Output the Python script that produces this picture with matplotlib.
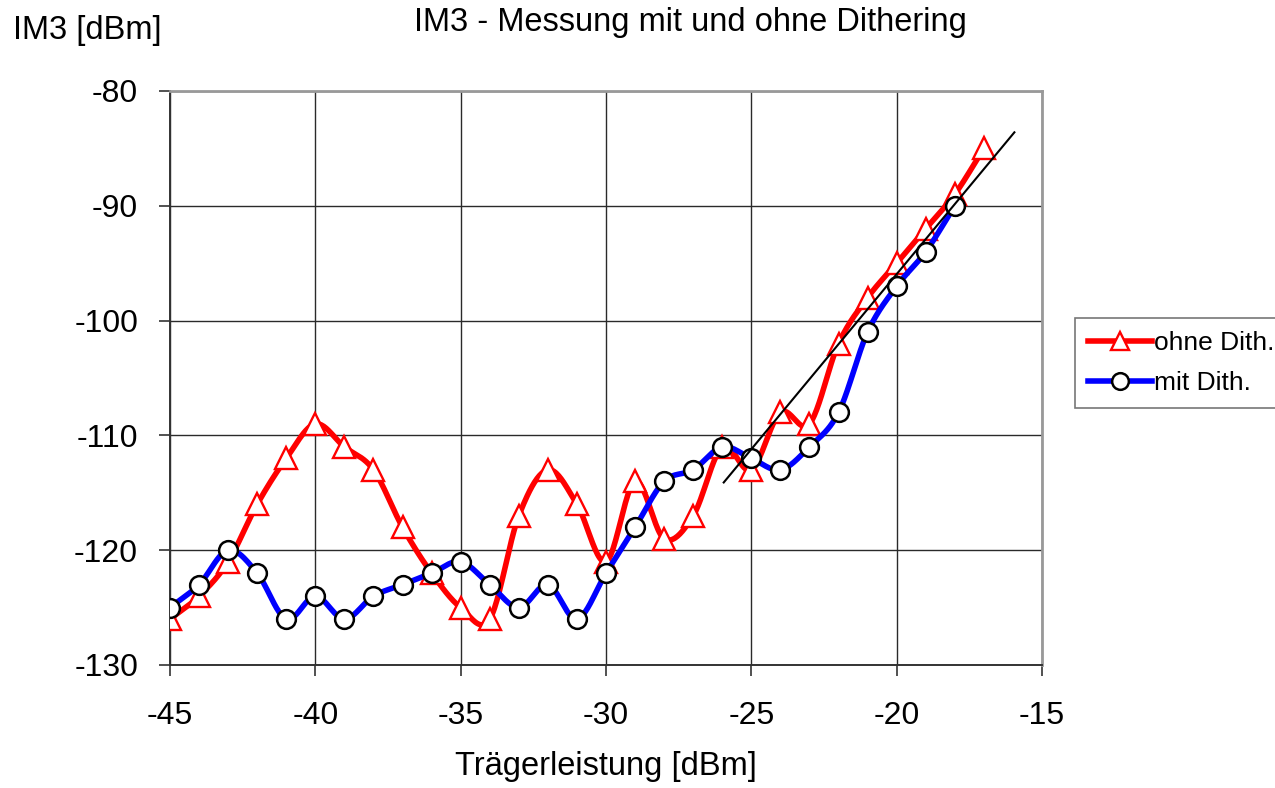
import numpy as np
import matplotlib.pyplot as plt

plt.rcParams['font.family'] = ['Liberation Sans', 'DejaVu Sans']
plt.rcParams['axes.unicode_minus'] = False

# Trägerleistung [dBm]
p_ohne = [-45, -44, -43, -42, -41, -40, -39, -38, -37, -36, -35, -34, -33, -32, -31,
          -30, -29, -28, -27, -26, -25, -24, -23, -22, -21, -20, -19, -18, -17]
im3_ohne = [-126, -124, -121, -116, -112, -109, -111, -113, -118, -122, -125, -126, -117, -113, -116,
            -121, -114, -119, -117, -111, -113, -108, -109, -102, -98, -95, -92, -89, -85]

p_mit = [-45, -44, -43, -42, -41, -40, -39, -38, -37, -36, -35, -34, -33, -32, -31,
         -30, -29, -28, -27, -26, -25, -24, -23, -22, -21, -20, -19, -18]
im3_mit = [-125, -123, -120, -122, -126, -124, -126, -124, -123, -122, -121, -123, -125, -123, -126,
           -122, -118, -114, -113, -111, -112, -113, -111, -108, -101, -97, -94, -90]

# Gerade mit Steigung 3 dB/dB
p_gerade = [-25.95, -15.95]
im3_gerade = [-114.1, -83.6]

xticks = [-45, -40, -35, -30, -25, -20, -15]
yticks = [-130, -120, -110, -100, -90, -80]


def glatt(x, y, n=24):
    # Catmull-Rom Spline, wie die geglätteten Linien in Excel
    x = np.asarray(x, float)
    y = np.asarray(y, float)
    px = np.concatenate([[2 * x[0] - x[1]], x, [2 * x[-1] - x[-2]]])
    py = np.concatenate([[2 * y[0] - y[1]], y, [2 * y[-1] - y[-2]]])
    t = np.linspace(0, 1, n, endpoint=False)
    xs, ys = [], []
    for i in range(1, len(px) - 2):
        for p, out in ((px, xs), (py, ys)):
            p0, p1, p2, p3 = p[i - 1], p[i], p[i + 1], p[i + 2]
            out.extend(0.5 * (2 * p1 + (-p0 + p2) * t + (2 * p0 - 5 * p1 + 4 * p2 - p3) * t**2
                              + (-p0 + 3 * p1 - 3 * p2 + p3) * t**3))
    xs.append(x[-1])
    ys.append(y[-1])
    return xs, ys


fig = plt.figure(figsize=(12.75, 7.88), dpi=100)
ax = fig.add_axes([170 / 1275, 1 - 665 / 788, 872 / 1275, 574 / 788])

xr, yr = glatt(p_ohne, im3_ohne)
ax.plot(xr, yr, color='#ff0000', lw=4, zorder=3, solid_capstyle='round')
ax.plot(p_ohne, im3_ohne, ls='none', marker='^', ms=15.5, mfc='white', mec='#ff0000', mew=1.7, zorder=4)

xb, yb = glatt(p_mit, im3_mit)
ax.plot(xb, yb, color='#0000ff', lw=4, zorder=5, solid_capstyle='round')
ax.plot(p_mit, im3_mit, ls='none', marker='o', ms=13.5, mfc='white', mec='black', mew=1.8, zorder=6)

ax.plot(p_gerade, im3_gerade, color='black', lw=1.5, zorder=7)

# Legendeneinträge
h1, = ax.plot([], [], color='#ff0000', lw=4, marker='^', ms=13.5, mfc='white', mec='#ff0000', mew=1.7)
h2, = ax.plot([], [], color='#0000ff', lw=4, marker='o', ms=12, mfc='white', mec='black', mew=1.8)

ax.set_xlim(-45, -15)
ax.set_ylim(-130, -80)
ax.set_xticks(xticks)
ax.set_yticks(yticks)
ax.grid(True, color='#2a2a2a', lw=1)
ax.set_axisbelow(True)
ax.tick_params(axis='both', labelsize=23, length=8, width=1.2, color='#333333', direction='out')
ax.tick_params(axis='x', pad=18)
ax.tick_params(axis='y', pad=15)

for s in ('left', 'bottom'):
    ax.spines[s].set_color('#333333')
    ax.spines[s].set_linewidth(1.4)
for s in ('top', 'right'):
    ax.spines[s].set_color('#999999')
    ax.spines[s].set_linewidth(2)

fig.text(690 / 1275, 1 - 22 / 788, 'IM3 - Messung mit und ohne Dithering', fontsize=23.5,
         ha='center', va='center')
fig.text(13 / 1275, 1 - 30 / 788, 'IM3 [dBm]', fontsize=23.5, ha='left', va='center')
fig.text(606 / 1275, 1 - 766 / 788, 'Trägerleistung [dBm]', fontsize=23.5, ha='center', va='center')

leg = fig.legend([h1, h2], ['ohne Dith.', 'mit Dith.'], loc='upper left',
                 bbox_to_anchor=(1075 / 1275, 1 - 318 / 788), borderaxespad=0,
                 fontsize=19, frameon=True, fancybox=False, handlelength=2.4,
                 handletextpad=0.1, borderpad=0.5, labelspacing=0.6)
leg.get_frame().set_edgecolor('#555555')
leg.get_frame().set_linewidth(1.2)

fig.savefig('out.png', dpi=100)
